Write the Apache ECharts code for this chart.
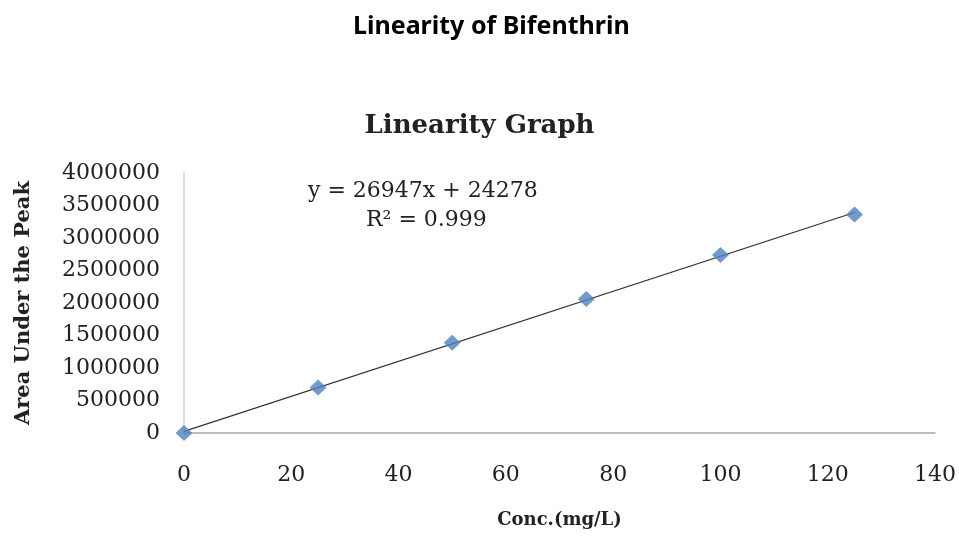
<!DOCTYPE html>
<html>
<head>
<meta charset="utf-8">
<title>Linearity of Bifenthrin</title>
<script src="https://cdn.jsdelivr.net/npm/echarts@6/dist/echarts.min.js"></script>
<style>
  html, body { margin: 0; padding: 0; background: #fff; }
  #chart { width: 959px; height: 539px; }
</style>
</head>
<body>
<div id="chart"></div>
<script>
// concentration (mg/L) and measured peak area
const conc = [0, 25, 50, 75, 100, 125]
const area = [0, 700000, 1390000, 2060000, 2740000, 3360000]

// trendline end points from y = 26947x + 24278
const trendX = [0, 125]
const trendY = [24278, 3392653]

const xTicks = [0, 20, 40, 60, 80, 100, 120, 140]
const yTicks = [0, 500000, 1000000, 1500000, 2000000, 2500000, 3000000, 3500000, 4000000]

const serif = '"DejaVu Serif", "Liberation Serif", serif'

const chart = echarts.init(document.getElementById('chart'))

const option = {
  backgroundColor: '#fff',
  animation: false,
  title: [
    {
      text: 'Linearity of Bifenthrin',
      left: 348,
      top: 9,
      textStyle: { fontFamily: '"Noto Sans", "Open Sans", sans-serif', fontWeight: 'bold', fontSize: 25, color: '#000' }
    },
    {
      text: 'Linearity Graph',
      left: 'center',
      top: 108,
      textStyle: { fontFamily: serif, fontWeight: 'bold', fontSize: 26, color: '#222' }
    }
  ],
  // trendline equation label
  graphic: [
    {
      type: 'text',
      left: 308,
      top: 180,
      style: { text: 'y = 26947x + 24278', font: '22px ' + serif, fill: '#222' }
    },
    {
      type: 'text',
      left: 366,
      top: 209,
      style: { text: 'R² = 0.999', font: '22px ' + serif, fill: '#222' }
    }
  ],
  grid: { left: 184, right: 24, top: 173, bottom: 106 },
  xAxis: {
    type: 'value',
    min: xTicks[0],
    max: xTicks[xTicks.length - 1],
    interval: 20,
    name: 'Conc.(mg/L)',
    nameLocation: 'middle',
    nameGap: 78,
    nameTextStyle: { fontFamily: serif, fontWeight: 'bold', fontSize: 18, color: '#222' },
    axisLine: { lineStyle: { color: '#A6A6A6', width: 1.5 } },
    axisTick: { show: false },
    splitLine: { show: false },
    axisLabel: { margin: 31, fontFamily: serif, fontSize: 22, color: '#222' }
  },
  yAxis: {
    type: 'value',
    min: yTicks[0],
    max: yTicks[yTicks.length - 1],
    interval: 500000,
    name: 'Area Under the Peak',
    nameLocation: 'middle',
    nameGap: 150,
    nameTextStyle: { fontFamily: serif, fontWeight: 'bold', fontSize: 21, color: '#222' },
    axisLine: { show: true, lineStyle: { color: '#D0D0D0', width: 1.5 } },
    axisTick: { show: false },
    splitLine: { show: false },
    axisLabel: { margin: 24, fontFamily: serif, fontSize: 22, color: '#222', formatter: v => String(v) }
  },
  series: [
    {
      name: 'Trend',
      type: 'line',
      data: trendX.map((x, i) => [x, trendY[i]]),
      showSymbol: false,
      lineStyle: { color: '#333', width: 1.2 },
      z: 2
    },
    {
      name: 'Area',
      type: 'scatter',
      data: conc.map((x, i) => [x, area[i]]),
      symbol: 'diamond',
      symbolSize: [17, 16],
      itemStyle: { color: '#4F81BD' },
      z: 3
    }
  ]
}

chart.setOption(option)
</script>
</body>
</html>
